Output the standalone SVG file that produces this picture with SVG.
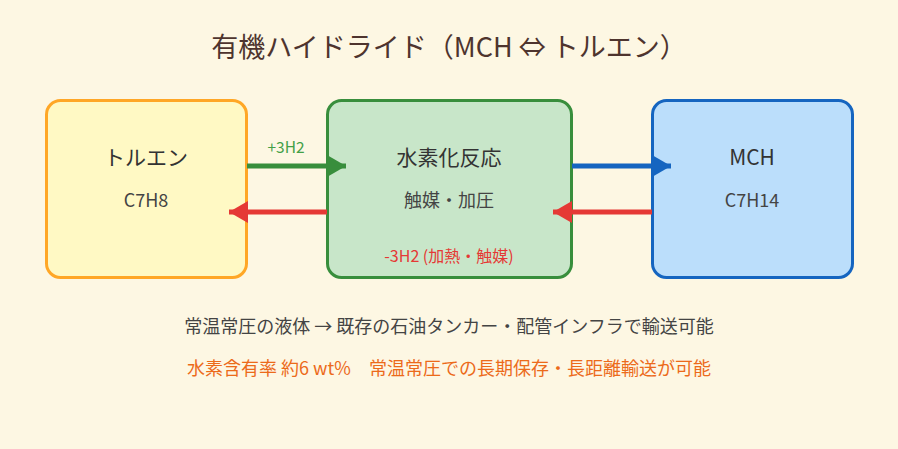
<svg xmlns="http://www.w3.org/2000/svg" width="898" height="449" viewBox="0 0 898 449">
  <style>
    text { font-family: "Noto Sans CJK JP", "Noto Sans", sans-serif; text-anchor: middle; }
    .title { font-size: 27px; fill: #4e342e; }
    .name { font-size: 21px; fill: #333333; }
    .sub { font-size: 18px; fill: #444444; }
    .box { stroke-width: 3; }
    .arr { stroke-width: 5; fill: none; }
    .note1 { font-size: 18px; fill: #444444; }
    .note2 { font-size: 18px; fill: #ec6a1a; }
  </style>
  <defs>
    <marker id="hg" markerUnits="userSpaceOnUse" markerWidth="19" markerHeight="22" refX="19" refY="11" orient="auto"><path d="M0,0 L19,11 L0,22 Z" fill="#388e3c"/></marker>
    <marker id="hb" markerUnits="userSpaceOnUse" markerWidth="19" markerHeight="22" refX="19" refY="11" orient="auto"><path d="M0,0 L19,11 L0,22 Z" fill="#1565c0"/></marker>
    <marker id="hr" markerUnits="userSpaceOnUse" markerWidth="19" markerHeight="22" refX="19" refY="11" orient="auto"><path d="M0,0 L19,11 L0,22 Z" fill="#e53935"/></marker>
  </defs>
  <rect width="898" height="449" fill="#fdf7e3"/>
  <text class="title" x="449" y="57">有機ハイドライド（MCH ⇔ トルエン）</text>

  <g id="toluene">
    <rect class="box" x="46.5" y="100.5" width="200" height="177" rx="14" fill="#fff9c4" stroke="#ffa726"/>
    <text class="name" x="146" y="165">トルエン</text>
    <text class="sub" x="146" y="207">C7H8</text>
  </g>
  <g id="reaction">
    <rect class="box" x="327.5" y="100.5" width="244" height="177" rx="14" fill="#c8e6c9" stroke="#388e3c"/>
    <text class="name" x="449" y="165">水素化反応</text>
    <text class="sub" x="449" y="207">触媒・加圧</text>
    <text x="449" y="262" font-size="16" fill="#e53935">-3H2 (加熱・触媒)</text>
  </g>
  <g id="mch">
    <rect class="box" x="652.5" y="100.5" width="200" height="177" rx="14" fill="#bbdefb" stroke="#1565c0"/>
    <text class="name" x="752" y="165">MCH</text>
    <text class="sub" x="752" y="207">C7H14</text>
  </g>

  <g id="connectors">
    <line class="arr" x1="247" y1="166" x2="346" y2="166" stroke="#388e3c" marker-end="url(#hg)"/>
    <text x="286" y="153" font-size="15.5" fill="#43a047">+3H2</text>
    <line class="arr" x1="327" y1="212" x2="229" y2="212" stroke="#e53935" marker-end="url(#hr)"/>
    <line class="arr" x1="572" y1="166" x2="671" y2="166" stroke="#1565c0" marker-end="url(#hb)"/>
    <line class="arr" x1="652" y1="212" x2="553" y2="212" stroke="#e53935" marker-end="url(#hr)"/>
  </g>

  <text class="note1" x="449" y="333">常温常圧の液体 → 既存の石油タンカー・配管インフラで輸送可能</text>
  <text class="note2" x="449" y="375">水素含有率 約6 wt%　常温常圧での長期保存・長距離輸送が可能</text>
</svg>
